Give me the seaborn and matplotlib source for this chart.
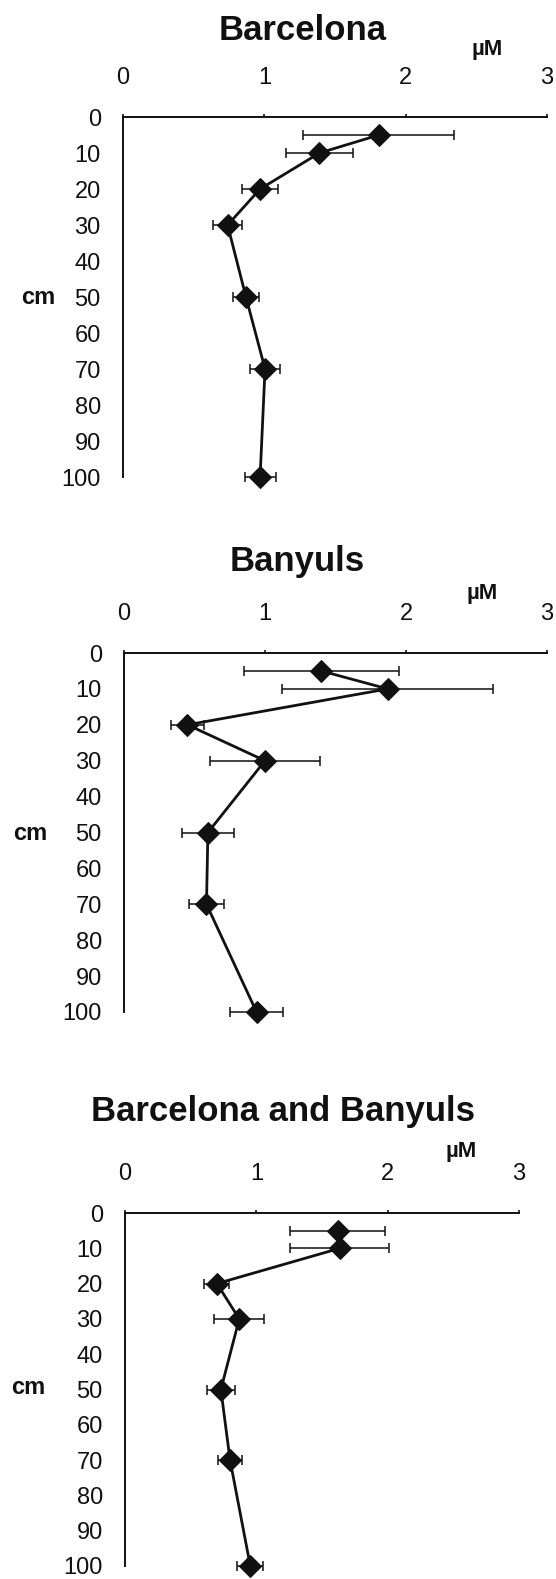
import matplotlib
matplotlib.use('Agg')
import matplotlib.pyplot as plt
import seaborn as sns

# depth of the samples (cm)
depth = [5, 10, 20, 30, 50, 70, 100]

# concentrations (uM) and error bars
barcelona = [1.81, 1.39, 0.97, 0.74, 0.87, 1.005, 0.97]
barcelona_err = [0.535, 0.24, 0.125, 0.105, 0.09, 0.105, 0.11]

banyuls = [1.40, 1.87, 0.45, 1.00, 0.595, 0.585, 0.94]
banyuls_err = [0.547, 0.75, 0.12, 0.39, 0.185, 0.125, 0.19]

both = [1.62, 1.635, 0.70, 0.87, 0.73, 0.80, 0.954]
both_err = [0.36, 0.375, 0.095, 0.19, 0.105, 0.09, 0.10]

titles = ['Barcelona', 'Banyuls', 'Barcelona and Banyuls']
xticks = [0, 1, 2, 3]
yticks = [0, 10, 20, 30, 40, 50, 60, 70, 80, 90, 100]

W, H = 556, 1579

sns.set_style('white')
plt.rcParams['font.family'] = ['Liberation Sans', 'DejaVu Sans']

fig = plt.figure(figsize=(W / 100, H / 100), dpi=100)

def fx(px):
    return px / W

def fy(py):
    return 1 - py / H

# axes boxes in pixels: left, right, top, bottom
boxes = [(123, 547, 117, 477), (124, 547, 653, 1012), (125, 519, 1213, 1566)]
title_pos = [(303, 30), (297, 562), (283, 1112)]
unit_pos = [(487, 49), (482, 593), (461, 1152)]
cm_pos = [(38, 298), (30, 833), (28, 1388)]

series = [(barcelona, barcelona_err), (banyuls, banyuls_err), (both, both_err)]

for i in range(3):
    l, r, t, b = boxes[i]
    ax = fig.add_axes([fx(l), fy(b), fx(r) - fx(l), fy(t) - fy(b)])
    vals, err = series[i]
    # error bars first so the markers sit on top
    eb = ax.errorbar(vals, depth, xerr=err, fmt='none', ecolor='#111111',
                     elinewidth=1.1, capsize=3.5, capthick=1.1, zorder=2)
    for art in eb.lines[1] + eb.lines[2]:
        art.set_clip_on(False)
    sns.lineplot(x=vals, y=depth, sort=False, estimator=None, ax=ax,
                 color='#111111', linewidth=2, marker='D', markersize=11,
                 markeredgecolor='#111111', markerfacecolor='#111111', zorder=3,
                 clip_on=False)
    ax.set_xlim(0, 3)
    ax.set_ylim(100, 0)
    ax.set_xticks(xticks)
    ax.set_yticks(yticks)
    ax.set_xlabel('')
    ax.set_ylabel('')
    ax.xaxis.tick_top()
    ax.spines['right'].set_visible(False)
    ax.spines['bottom'].set_visible(False)
    for s in ['top', 'left']:
        ax.spines[s].set_linewidth(1.4)
        ax.spines[s].set_color('#111111')
    ax.tick_params(axis='x', direction='out', length=2.5, width=1.2, pad=18,
                   labelsize=17, colors='#111111')
    ax.tick_params(axis='y', direction='out', length=7, width=1.2, pad=9,
                   labelsize=17, colors='#111111')
    ax.patch.set_alpha(0)

    fig.text(fx(title_pos[i][0]), fy(title_pos[i][1]), titles[i], ha='center',
             va='center', fontsize=25, fontweight='bold', color='#111111')
    fig.text(fx(unit_pos[i][0]), fy(unit_pos[i][1]), 'µM', ha='center',
             va='center', fontsize=16, fontweight='bold', color='#111111')
    fig.text(fx(cm_pos[i][0]), fy(cm_pos[i][1]), 'cm', ha='center',
             va='center', fontsize=17, fontweight='bold', color='#111111')

fig.savefig('out.png', dpi=100, facecolor='white')
